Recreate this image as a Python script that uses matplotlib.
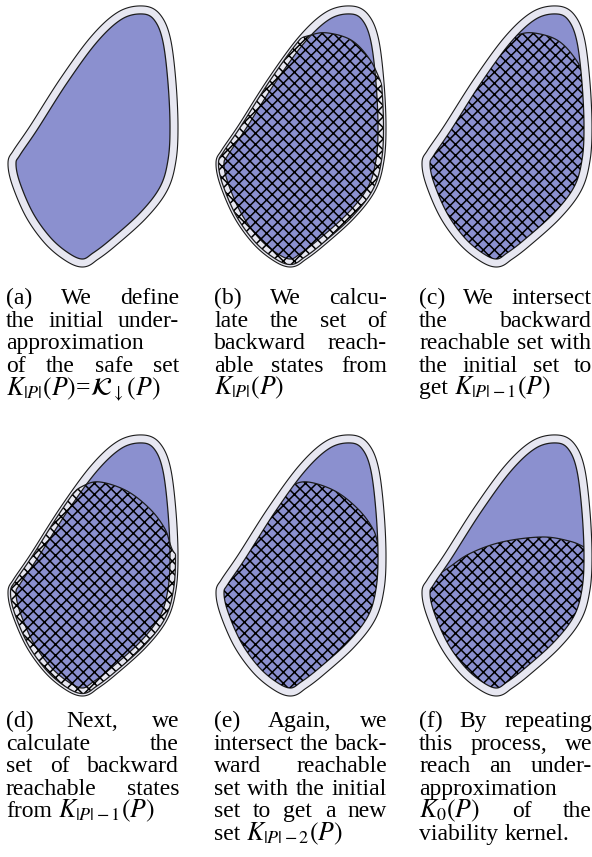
import numpy as np
import matplotlib
matplotlib.use("Agg")
import matplotlib.pyplot as plt
from matplotlib.patches import Polygon

plt.rcParams['font.family'] = 'Liberation Serif'
plt.rcParams['mathtext.fontset'] = 'stix'
plt.rcParams['hatch.linewidth'] = 1.1

# ---- data: the safe set (blue), in panel pixel coords ----
safe_set = [(143, 14), (155, 21), (163, 42), (168, 83), (170, 127), (168, 160),
            (160, 187), (140, 213), (110, 240), (93, 253), (82, 259), (67, 252),
            (50, 237), (33, 213), (20, 183), (16, 164), (20, 155), (37, 130),
            (67, 83), (97, 42), (122, 19)]

# top cuts of the backward reachable sets (arc part + points far outside)
cut_first = [(103, 35), (120, 33), (143, 40), (160, 57), (172, 80), (200, 150),
             (205, 300), (80, 330), (-20, 250), (-20, 150), (40, 80), (80, 45)]
cut_second = [(83, 57), (100, 53), (127, 62), (150, 80), (165, 100), (172, 120),
              (188, 155), (205, 320), (80, 330), (-20, 250), (-20, 150), (30, 100),
              (65, 70)]
cut_last = [(28, 143), (55, 125), (88, 113), (128, 108), (155, 112), (170, 118),
            (182, 126), (220, 150), (220, 320), (80, 330), (-25, 250), (-25, 175)]

captions = {
    'a': ["(a) We define", "the initial under-", "approximation", "of the safe set",
          r"$K_{|P|}(P)$=$\mathcal{K}_{\downarrow}(P)$"],
    'b': ["(b) We calcu-", "late the set of", "backward reach-", "able states from",
          r"$K_{|P|}(P)$"],
    'c': ["(c) We intersect", "the backward", "reachable set with", "the initial set to",
          r"get $K_{|P|-1}(P)$"],
    'd': ["(d) Next, we", "calculate the", "set of backward", "reachable states",
          r"from $K_{|P|-1}(P)$"],
    'e': ["(e) Again, we", "intersect the back-", "ward reachable", "set with the initial",
          "set to get a new", r"set $K_{|P|-2}(P)$"],
    'f': ["(f) By repeating", "this process, we", "reach an under-", "approximation",
          r"$K_0(P)$ of the", "viability kernel."],
}
# lines set flush left (last line of a paragraph, lone words)
flush_left = {'a': [2, 4], 'b': [4], 'c': [4], 'd': [4], 'e': [5], 'f': [3, 5]}

BLUE = '#8b90cf'
BAND = '#e7e7f1'
EDGE = '#1c1c1c'


def closed_spline(pts, n=40):
    pts = np.asarray(pts, float)
    m = len(pts)
    out = []
    t = np.linspace(0, 1, n, endpoint=False)[:, None]
    for i in range(m):
        p0, p1, p2, p3 = pts[(i - 1) % m], pts[i], pts[(i + 1) % m], pts[(i + 2) % m]
        seg = 0.5 * (2 * p1 + (-p0 + p2) * t + (2 * p0 - 5 * p1 + 4 * p2 - p3) * t ** 2
                     + (-p0 + 3 * p1 - 3 * p2 + p3) * t ** 3)
        out.append(seg)
    return np.vstack(out)


def offset(curve, d):
    nxt = np.roll(curve, -1, axis=0)
    prv = np.roll(curve, 1, axis=0)
    tang = nxt - prv
    tang = tang / np.linalg.norm(tang, axis=1)[:, None]
    nrm = np.column_stack([tang[:, 1], -tang[:, 0]])
    c = curve.mean(axis=0)
    if np.mean(np.sum((curve - c) * nrm, axis=1)) < 0:
        nrm = -nrm
    return curve + d * nrm


fig = plt.figure(figsize=(5.92, 8.57), dpi=100)
ax = fig.add_axes([0, 0, 1, 1])
ax.set_xlim(0, 592)
ax.set_ylim(857, 0)
ax.axis('off')

inner0 = closed_spline(safe_set)
outer0 = offset(inner0, 8)
grown0 = offset(inner0, 5.5)


def draw_panel(ox, oy, cut=None, grow=False):
    sh = np.array([ox, oy])
    outer = outer0 + sh
    inner = inner0 + sh
    ax.add_patch(Polygon(outer, closed=True, fc=BAND, ec=EDGE, lw=0.8, zorder=1))
    ax.add_patch(Polygon(inner, closed=True, fc=BLUE, ec=EDGE, lw=0.9, zorder=2))
    if cut is None:
        return
    cutp = closed_spline(cut) + sh
    region = grown0 + sh if grow else inner
    clip = Polygon(region, closed=True, transform=ax.transData)
    h = Polygon(cutp, closed=True, fc='none', ec='black', lw=0, hatch='xxx', zorder=3)
    ax.add_patch(h)
    h.set_clip_path(clip)
    ln = Polygon(cutp, closed=True, fc='none', ec=EDGE, lw=0.9, zorder=4)
    ax.add_patch(ln)
    ln.set_clip_path(Polygon(region, closed=True, transform=ax.transData))
    if grow:
        g = Polygon(region, closed=True, fc='none', ec=EDGE, lw=0.9, zorder=4)
        ax.add_patch(g)
        g.set_clip_path(Polygon(cutp, closed=True, transform=ax.transData))


cols = [0, 208, 414]
rows = [0, 429]
draw_panel(cols[0], rows[0])
draw_panel(cols[1], rows[0], cut_first, grow=True)
draw_panel(cols[2], rows[0], cut_first)
draw_panel(cols[0], rows[1], cut_second, grow=True)
draw_panel(cols[1], rows[1], cut_second)
draw_panel(cols[2], rows[1], cut_last)

# ---- captions, justified like the original ----
renderer = fig.canvas.get_renderer()
FS = 17
FSM = 18.5   # stix math comes out a bit small next to the text font
SPACE = 6
text_left = [6, 214, 419]
text_w = 173
base_y = [304, 727]
dy = 22.6


def caption(key, col, row):
    x0 = text_left[col]
    for i, line in enumerate(captions[key]):
        y = base_y[row] + i * dy
        words = line.split(' ')
        ts = [ax.text(0, y, w, fontsize=FSM if '$' in w else FS, va='baseline', ha='left')
              for w in words]
        widths = [t.get_window_extent(renderer).width for t in ts]
        if i in flush_left[key] or len(words) == 1:
            gap = SPACE
        else:
            gap = (text_w - sum(widths)) / (len(words) - 1)
        x = x0
        for t, w in zip(ts, widths):
            t.set_x(x)
            x += w + gap


caption('a', 0, 0)
caption('b', 1, 0)
caption('c', 2, 0)
caption('d', 0, 1)
caption('e', 1, 1)
caption('f', 2, 1)

fig.savefig('out.png', dpi=100)
